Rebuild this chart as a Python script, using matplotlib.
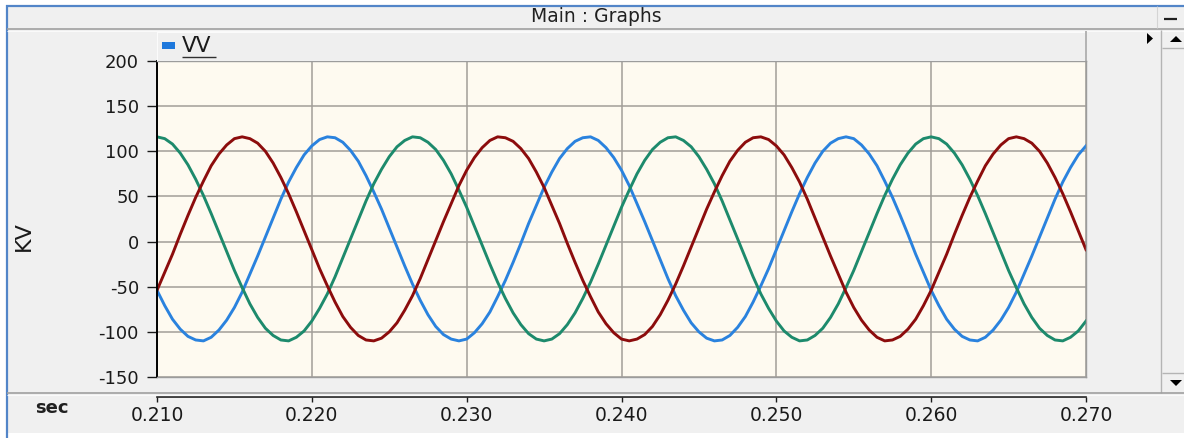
import numpy as np
import matplotlib
matplotlib.use("Agg")
import matplotlib.pyplot as plt
from matplotlib.lines import Line2D
from matplotlib.patches import Rectangle, Polygon

# =========================================================
# DATA (kV, one sample every 0.5 ms starting at t = 0.210 s)
# =========================================================

t_start = 0.210
t_step = 0.0005

vv_blue = [
    -54, -71, -86, -97, -105, -109, -110, -106, -98, -87,
    -73, -56, -36, -16, 5, 26, 47, 66, 82, 96,
    106, 113, 116, 115, 110, 101, 89, 73, 55, 36,
    15, -6, -27, -47, -65, -81, -94, -103, -108, -110,
    -108, -101, -91, -78, -61, -43, -23, -2, 20, 40,
    60, 77, 92, 103, 111, 115, 116, 112, 104, 93,
    79, 62, 42, 22, 1, -20, -41, -60, -76, -90,
    -100, -107, -110, -109, -104, -95, -83, -67, -49, -30,
    -9, 12, 33, 53, 71, 87, 100, 109, 114, 116,
    114, 107, 97, 84, 67, 49, 29, 8, -14, -34,
    -54, -71, -86, -97, -105, -109, -110, -106, -98, -87,
    -73, -56, -36, -16, 5, 26, 47, 66, 82, 96,
    106,
]

vv_green = [
    116, 114, 108, 98, 85, 69, 51, 31, 10, -11,
    -32, -51, -69, -84, -96, -104, -109, -110, -106, -99,
    -88, -74, -58, -39, -18, 3, 24, 45, 64, 80,
    94, 105, 112, 116, 115, 110, 102, 90, 75, 57,
    38, 17, -4, -25, -45, -63, -79, -92, -102, -108,
    -110, -108, -102, -92, -79, -63, -45, -25, -4, 17,
    38, 57, 75, 90, 102, 110, 115, 116, 112, 105,
    94, 80, 64, 45, 24, 3, -18, -39, -58, -74,
    -88, -99, -106, -110, -109, -104, -96, -84, -69, -51,
    -32, -11, 10, 31, 51, 69, 85, 98, 108, 114,
    116, 114, 108, 98, 85, 69, 51, 31, 10, -11,
    -32, -51, -69, -84, -96, -104, -109, -110, -106, -99,
    -88,
]

vv_red = [
    -54, -34, -14, 8, 29, 49, 67, 84, 97, 107,
    114, 116, 114, 109, 100, 87, 71, 53, 33, 12,
    -9, -30, -49, -67, -83, -95, -104, -109, -110, -107,
    -100, -90, -76, -60, -41, -20, 1, 22, 42, 62,
    79, 93, 104, 112, 116, 115, 111, 103, 92, 77,
    60, 40, 20, -2, -23, -43, -61, -78, -91, -101,
    -108, -110, -108, -103, -94, -81, -65, -47, -27, -6,
    15, 36, 55, 73, 89, 101, 110, 115, 116, 113,
    106, 96, 82, 66, 47, 26, 5, -16, -36, -56,
    -73, -87, -98, -106, -110, -109, -105, -97, -86, -71,
    -54, -34, -14, 8, 29, 49, 67, 84, 97, 107,
    114, 116, 114, 109, 100, 87, 71, 53, 33, 12,
    -9,
]

y_ticks = [-150, -100, -50, 0, 50, 100, 150, 200]
x_ticks = [0.210, 0.220, 0.230, 0.240, 0.250, 0.260, 0.270]
x_tick_labels = ["0.210", "0.220", "0.230", "0.240", "0.250", "0.260", "0.270"]

times = t_start + t_step * np.arange(len(vv_blue))

# =========================================================
# FIGURE + WINDOW DECORATION (pixel helpers)
# =========================================================

plt.rcParams["font.family"] = ["DejaVu Sans"]
plt.rcParams["axes.unicode_minus"] = False

W, H = 1184, 438
fig = plt.figure(figsize=(W / 100, H / 100), dpi=100, facecolor="white")


def fx(x):
    return x / W


def fy(y):
    return 1 - y / H


def hline(x0, x1, y, color, lw=0.75, z=5):
    fig.add_artist(Line2D([fx(x0), fx(x1)], [fy(y), fy(y)], transform=fig.transFigure,
                          color=color, lw=lw, zorder=z, solid_capstyle="butt"))


def vline(x, y0, y1, color, lw=0.75, z=5):
    fig.add_artist(Line2D([fx(x), fx(x)], [fy(y0), fy(y1)], transform=fig.transFigure,
                          color=color, lw=lw, zorder=z, solid_capstyle="butt"))


def tri(points, color="black"):
    fig.add_artist(Polygon([(fx(a), fy(b)) for a, b in points], closed=True,
                           transform=fig.transFigure, facecolor=color, edgecolor="none", zorder=6))


# panel background
fig.add_artist(Rectangle((fx(7), fy(433)), (W - 7) / W, (433 - 6) / H, transform=fig.transFigure,
                         facecolor="#f0f0f0", edgecolor="none", zorder=-10))

# blue window border
hline(6, W, 5.5, "#5285c8", lw=1.6)
vline(6.5, 5, H, "#5285c8", lw=1.6)

# title bar
fig.text(fx(596), fy(16.5), "Main : Graphs", ha="center", va="center", fontsize=13.5, color="#202020")
hline(7, W, 29, "#a0a0a0", lw=1.2)
hline(7, W, 30.5, "#fafafa", lw=0.8)
vline(1157, 6, 28, "#d4d4d4", lw=0.8)
hline(1164, 1177, 18.5, "#202020", lw=1.6)

# legend strip above the plot
fig.add_artist(Rectangle((fx(157), fy(61)), (1085 - 157) / W, 30 / H, transform=fig.transFigure,
                         facecolor="#efefef", edgecolor="none", zorder=1))
hline(157, 1085, 31.5, "#fbfbfb", lw=0.8)
vline(157, 31, 61, "#fbfbfb", lw=0.8)
vline(1085.5, 31, 61, "#a8a8a8", lw=1.2)
fig.add_artist(Rectangle((fx(162), fy(49)), 13 / W, 7 / H, transform=fig.transFigure,
                         facecolor="#1e78dc", edgecolor="none", zorder=6))
fig.text(fx(182), fy(46), "VV", ha="left", va="center", fontsize=15.5, color="#1a1a1a")
hline(182, 216, 57, "#303030", lw=1.0)

# small arrow and scrollbar on the right
tri([(1147, 33), (1147, 44), (1153, 38.5)])
vline(1161, 30, 393, "#b4b4b4", lw=1.0)
hline(1162, W, 48, "#b4b4b4", lw=1.0)
tri([(1170, 42), (1182, 42), (1176, 36)])
hline(1162, W, 373, "#b4b4b4", lw=1.0)
tri([(1170, 380), (1182, 380), (1176, 386)])

# separator above the time axis
hline(7, W, 393, "#a0a0a0", lw=1.2)
hline(7, W, 394.5, "#fafafa", lw=0.8)

# =========================================================
# MAIN PLOT
# =========================================================

ax = fig.add_axes([fx(157), fy(377), (1086 - 157) / W, (377 - 61) / H])
ax.set_facecolor("#fefaf0")

ax.plot(times, vv_blue, color="#2a82de", lw=2.1)
ax.plot(times, vv_green, color="#1d8a6c", lw=2.1)
ax.plot(times, vv_red, color="#8c0c0c", lw=2.1)

ax.set_xlim(x_ticks[0], x_ticks[-1])
ax.set_ylim(y_ticks[0], y_ticks[-1])
ax.set_xticks(x_ticks)
ax.set_yticks(y_ticks)
ax.grid(True, color="#a29e98", lw=1.1)
ax.set_axisbelow(True)

ax.tick_params(axis="x", length=0, labelbottom=False)
ax.tick_params(axis="y", direction="out", length=7, width=1, pad=6,
               labelsize=13, colors="#1a1a1a")

ax.spines["left"].set_color("black")
ax.spines["left"].set_linewidth(1.4)
for side in ["top", "right", "bottom"]:
    ax.spines[side].set_color("#9c9c9c")
    ax.spines[side].set_linewidth(1.0)

fig.text(fx(24), fy(236), "KV", rotation=90, ha="center", va="center",
         fontsize=16, color="#1a1a1a")

# =========================================================
# TIME AXIS (separate strip below)
# =========================================================

axb = fig.add_axes([fx(157), fy(397), (1086 - 157) / W, 0.0001])
axb.set_facecolor("none")
axb.set_xlim(x_ticks[0], x_ticks[-1])
axb.set_xticks(x_ticks)
axb.set_xticklabels(x_tick_labels)
axb.set_yticks([])
axb.tick_params(axis="x", direction="out", length=3.6, width=1, pad=3,
                labelsize=13.5, colors="#1a1a1a")
for side in ["top", "right", "left"]:
    axb.spines[side].set_visible(False)
axb.spines["bottom"].set_color("#202020")
axb.spines["bottom"].set_linewidth(1.2)

fig.text(fx(52), fy(408), "sec", ha="center", va="center", fontsize=13,
         fontweight="bold", color="#202020")

fig.savefig("out.png", dpi=100, facecolor=fig.get_facecolor())
